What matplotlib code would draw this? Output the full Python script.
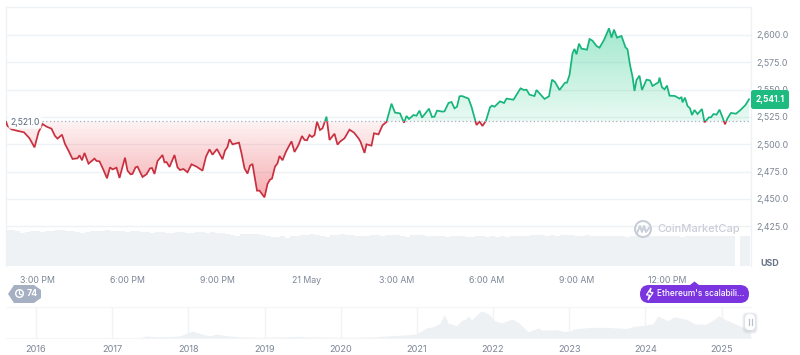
import numpy as np
import matplotlib
matplotlib.use('Agg')
import matplotlib.pyplot as plt
from matplotlib.patches import FancyBboxPatch, Polygon, Circle
from matplotlib.path import Path
from matplotlib.patches import PathPatch
from matplotlib.colors import to_rgb

plt.rcParams['font.family'] = ['Inter', 'DejaVu Sans']

# minutes after 3:00 PM
minutes = [-62,-59,-51,-41,-26,-15,-5,3,11,19,29,36,41,50,56,63,71,81,85,90,95,103,115,119,125,133,140,146,151,159,
           165,176,181,187,191,197,201,211,219,226,230,235,241,251,255,259,265,275,281,286,293,301,309,319,331,338,345,351,360,371,
           376,381,385,391,404,409,415,421,426,431,440,445,455,461,466,470,476,481,485,491,498,509,515,523,530,535,540,545,550,555,
           560,566,571,579,585,595,601,606,615,625,634,643,647,655,659,669,674,683,691,699,709,716,726,734,739,744,753,759,765,770,
           784,790,795,800,811,815,823,829,835,840,845,850,863,869,879,885,891,898,906,910,915,926,934,939,953,967,974,979,985,995,
           999,1015,1024,1030,1036,1045,1056,1060,1065,1071,1075,1079,1084,1089,1100,1105,1111,1119,1125,1134,1144,1149,1154,1160,1169,1177,1181,1186,1191,1195,
           1199,1205,1210,1219,1226,1231,1243,1245,1250,1255,1260,1265,1276,1285,1289,1291,1296,1301,1306,1310,1315,1321,1330,1335,1344,1348,1353,1359,1365,1371,
           1376,1381,1388,1398,1407,1417,1424]
price = [2520.7,2516.8,2513.7,2512.5,2511.0,2505.5,2497.2,2511.0,2518.6,2516.2,2514.3,2507.6,2505.2,2508.8,2500.3,2494.2,2486.6,2487.2,2489.9,2485.4,2492.1,2482.3,2486.9,2484.8,2484.4,2476.5,2468.9,2478.9,2477.1,2478.6,
         2469.2,2487.8,2475.9,2472.6,2472.9,2478.9,2479.6,2470.1,2472.6,2478.0,2478.3,2472.9,2484.7,2490.2,2483.5,2483.8,2479.3,2490.2,2478.9,2476.5,2477.4,2474.4,2481.7,2479.6,2475.9,2488.7,2495.4,2490.5,2495.7,2486.3,
         2494.2,2497.6,2504.6,2500.0,2501.5,2491.8,2478.0,2473.2,2480.5,2482.0,2457.6,2457.6,2451.5,2463.7,2467.7,2468.6,2479.6,2482.6,2489.3,2485.4,2493.3,2502.7,2493.0,2499.4,2507.6,2504.0,2503.7,2508.5,2506.7,2508.5,
         2520.7,2513.1,2514.6,2525.3,2504.0,2509.7,2499.7,2502.4,2505.5,2513.4,2510.7,2505.5,2502.4,2492.1,2500.0,2498.8,2510.1,2509.1,2517.4,2520.4,2537.2,2529.0,2528.3,2519.8,2525.9,2523.2,2526.8,2526.2,2530.8,2524.4,
         2532.6,2525.0,2525.3,2530.8,2529.9,2530.2,2537.8,2538.7,2532.9,2534.4,2543.9,2544.2,2541.8,2534.4,2517.7,2520.7,2516.8,2521.6,2533.8,2535.4,2534.4,2539.3,2537.8,2541.8,2540.8,2551.2,2549.7,2550.0,2545.4,2544.2,
         2549.7,2541.5,2543.9,2559.1,2557.0,2549.7,2556.4,2556.4,2563.4,2583.2,2587.2,2582.3,2592.1,2587.5,2586.6,2596.3,2594.8,2589.9,2588.4,2595.4,2606.1,2597.6,2604.9,2597.6,2599.1,2588.7,2586.9,2572.6,2561.9,2548.8,
         2558.8,2562.8,2549.7,2559.1,2558.5,2553.4,2556.7,2561.0,2552.1,2550.3,2553.7,2544.5,2544.2,2541.8,2543.3,2538.4,2542.7,2535.1,2532.9,2526.8,2531.4,2527.7,2532.3,2520.1,2524.7,2524.7,2527.7,2527.1,2531.7,2524.7,
         2518.3,2523.8,2528.7,2528.0,2531.4,2536.0,2541.2]
base_price = 2521.0
last_price = 2541.1

y_ticks = [2425, 2450, 2475, 2500, 2525, 2550, 2575, 2600]
y_labels = ['2,425.0', '2,450.0', '2,475.0', '2,500.0', '2,525.0', '2,550.0', '2,575.0', '2,600.0']
time_ticks = [0, 180, 360, 540, 720, 900, 1080, 1260]
time_labels = ['3:00 PM', '6:00 PM', '9:00 PM', '21 May', '3:00 AM', '6:00 AM', '9:00 AM', '12:00 PM']

# volume, one bar every 10 minutes from -60
volume = [36,36,35,33,34,35,35,34,35,35,36,36,35,35,34,33,34,35,35,35,36,35,35,35,34,35,35,34,34,33,
          34,34,33,33,34,34,33,33,34,34,33,34,33,33,32,31,30,32,32,32,32,31,30,29,29,30,28,30,30,31,
          31,32,31,30,29,31,31,32,31,31,30,30,30,31,31,30,31,31,31,30,29,31,31,31,30,30,30,30,29,30,
          30,30,29,29,30,30,29,30,29,30,29,30,30,30,30,31,31,31,30,31,30,31,31,31,30,30,31,30,30,30,
          30,30,30,30,29,30,30,30,30,30,30,30,30,30,30,29,30,30,30,30,30,30,30,30,30,30,0,30,30]

# overview
years = [2016, 2017, 2018, 2019, 2020, 2021, 2022, 2023, 2024, 2025]
ov_x = [2015.62,2016.5,2017.0,2017.36,2017.45,2017.58,2017.75,2017.89,2018.05,2018.19,2018.28,2018.37,2018.48,2018.68,2018.97,2019.45,2019.6,2020.0,2020.2,2020.45,
        2020.65,2020.9,2021.0,2021.04,2021.13,2021.21,2021.3,2021.36,2021.41,2021.52,2021.59,2021.63,2021.67,2021.72,2021.83,2021.87,2021.96,2022.02,2022.11,2022.25,
        2022.33,2022.46,2022.59,2022.65,2022.84,2022.92,2023.0,2023.07,2023.27,2023.5,2023.75,2023.85,2024.0,2024.1,2024.16,2024.3,2024.38,2024.55,2024.65,2024.8,
        2024.9,2024.96,2025.05,2025.15,2025.3,2025.38]
ov_price = [3,10,10,50,350,230,250,370,1250,650,400,700,450,220,120,290,200,130,130,230,
            400,600,740,1100,1850,2000,2600,4200,2700,2200,3200,3300,3900,3300,4700,4800,4100,3100,2700,3400,
            2800,1100,1800,1400,1500,1200,1200,1650,1900,1900,1700,2100,2300,2600,3900,3100,3800,3300,2500,2500,
            3300,4000,3300,2700,1800,1700]

W, H = 800, 355
fig = plt.figure(figsize=(8, 3.55), dpi=100, facecolor='white')

def px_axes(x0, y_top, x1, y_bot, **kw):
    return fig.add_axes([x0 / W, 1 - y_bot / H, (x1 - x0) / W, (y_bot - y_top) / H], **kw)

GRID = '#eff2f5'
TXT = '#7c8696'
GREEN = '#16b57c'
RED = '#c9303f'

# main chart
ax = px_axes(6, 7, 751, 266)
xlim = (-62, 1428)
ylim = (2388.7, 2625.6)
for s in ['bottom']:
    ax.spines[s].set_visible(False)
for s in ['top', 'left', 'right']:
    ax.spines[s].set_color(GRID)
    ax.spines[s].set_linewidth(1)
ax.set_yticks(y_ticks)
ax.set_yticklabels(y_labels)
ax.yaxis.tick_right()
ax.set_xticks(time_ticks)
ax.set_xticklabels(time_labels)
ax.tick_params(axis='both', length=0, labelsize=6.3, labelcolor=TXT)
ax.tick_params(axis='x', pad=7)
ax.tick_params(axis='y', pad=3.5)
ax.grid(axis='y', color=GRID, linewidth=1)
ax.set_axisbelow(True)

x = np.array(minutes)
y = np.array(price)

# gradient fill between the line and the opening price
outline = Path(np.column_stack([np.r_[x[0], x, x[-1], x[0]], np.r_[base_price, y, base_price, base_price]]))
def gradient(color, a_start, a_end, top, bottom):
    img = np.zeros((128, 2, 4))
    img[:, :, :3] = to_rgb(color)
    img[:, :, 3] = np.linspace(a_start, a_end, 128)[:, None]
    im = ax.imshow(img, extent=(xlim[0], xlim[1], bottom, top), aspect='auto', origin='upper', zorder=2)
    im.set_clip_path(PathPatch(outline, transform=ax.transData))
gradient('#16c784', 0.40, 0.10, 2607, base_price)
gradient('#ea3943', 0.06, 0.42, base_price, 2451)

up, = ax.plot(x, y, color=GREEN, lw=1.25, zorder=3, solid_joinstyle='miter')
dn, = ax.plot(x, y, color=RED, lw=1.25, zorder=3, solid_joinstyle='miter')
up.set_clip_path(matplotlib.patches.Rectangle((xlim[0], base_price), xlim[1] - xlim[0], 200, transform=ax.transData))
dn.set_clip_path(matplotlib.patches.Rectangle((xlim[0], base_price - 200), xlim[1] - xlim[0], 200, transform=ax.transData))

ax.plot([10, xlim[1]], [base_price, base_price], color='#a6b0c3', lw=0.9, ls=(0, (1, 2)), zorder=4)
ax.set_xlim(xlim)
ax.set_ylim(ylim)
ax.text(-24, base_price - 1, '2,521.0', ha='center', va='center', fontsize=6.2, color='#58667e', zorder=5,
        bbox=dict(fc='white', ec='none', alpha=0.9, boxstyle='round,pad=0.2'))

# volume bars
vax = px_axes(6, 226, 751, 266)
vax.patch.set_alpha(0)
vax.bar(-60 + 10 * np.arange(len(volume)), volume, width=10, color='#eff2f5', linewidth=0)
vax.set_xlim(xlim)
vax.set_ylim(0, 40)
vax.axis('off')

# overview area
oax = px_axes(6, 307, 751, 338)
oax.fill_between(ov_x, ov_price, 0, color='#eef1f4', linewidth=0, zorder=2)
oax.set_xlim(2015.607, 2025.385)
oax.set_ylim(0, 5550)
oax.set_xticks(years)
oax.set_xticklabels([str(v) for v in years])
oax.set_yticks([])
oax.tick_params(axis='x', length=0, labelsize=6.6, labelcolor=TXT, pad=5)
oax.grid(axis='x', color='#f1f3f6', linewidth=1, zorder=1)
for s in ['left', 'right']:
    oax.spines[s].set_visible(False)
for s in ['top', 'bottom']:
    oax.spines[s].set_color('#f3f5f7')

# overlay in pixels for the badges
top = fig.add_axes([0, 0, 1, 1], zorder=10)
top.set_xlim(0, W)
top.set_ylim(H, 0)
top.axis('off')

def pill(x0, y0, x1, y1, r, color, **kw):
    p = FancyBboxPatch((x0 + r, y0 + r), x1 - x0 - 2 * r, y1 - y0 - 2 * r,
                       boxstyle='round,pad=%s,rounding_size=%s' % (r, r), fc=color, ec='none', **kw)
    top.add_patch(p)

# last price tag
pill(751, 90, 789, 109, 2.5, '#1dbb80')
top.text(770, 100, '2,541.1', ha='center', va='center', fontsize=6, color='white', fontweight='bold')
top.text(770, 264, 'USD', ha='center', va='center', fontsize=6.4, color='#6a7587', fontweight='bold')

# watermark
top.add_patch(Circle((643, 229), 8, fc='none', ec='#c8ced8', lw=1.5))
top.plot([637, 640, 642, 644, 646, 649], [233, 226, 232, 226, 232, 228], color='#c8ced8', lw=1.4)
top.text(657, 229.5, 'CoinMarketCap', ha='left', va='center', fontsize=8, color='#c8ced8', fontweight='medium')

# gray events badge
top.add_patch(Polygon([(8, 294), (14, 285), (34, 285), (41, 290), (41, 298), (34, 303), (14, 303)], fc='#a6b0c3', ec='none'))
top.add_patch(Circle((19.5, 293.5), 3.8, fc='none', ec='white', lw=1))
top.plot([19.5, 19.5, 22], [291, 294, 295], color='white', lw=0.8)
top.text(32, 294, '74', ha='center', va='center', fontsize=6.4, color='white', fontweight='bold')

# purple event pill
top.add_patch(Polygon([(690, 285), (694.5, 281.5), (699, 285)], fc='#7a35e0', ec='none'))
pill(640, 285, 749, 303, 9, '#7a35e0')
top.add_patch(Polygon([(651, 288), (646.5, 295), (649.5, 295), (648, 300), (653, 292.5), (650, 292.5)], fc='none', ec='white', lw=0.9))
top.text(657, 294, "Ethereum's scalabili...", ha='left', va='center', fontsize=6, color='white', fontweight='medium')

# range handle
for lw, c, a in [(5, '#c5cbd5', 0.25), (3, '#c5cbd5', 0.35)]:
    pill(745 - lw / 2, 314 - lw / 2 + 1, 755 + lw / 2, 330 + lw / 2 + 1, 4.5, c, alpha=a)
pill(745, 314, 755, 330, 4.5, 'white')
top.plot([749, 749], [319, 325], color='#b8c0cc', lw=0.9)
top.plot([751.5, 751.5], [319, 325], color='#b8c0cc', lw=0.9)

fig.savefig('out.png', dpi=100)
